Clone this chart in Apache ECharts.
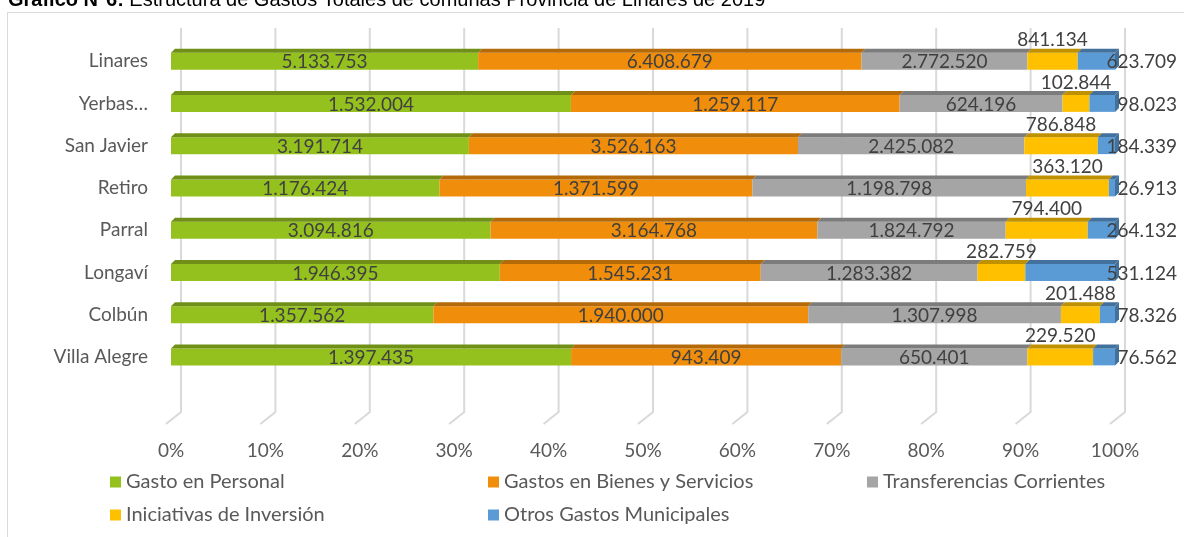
<!DOCTYPE html>
<html><head><meta charset="utf-8">
<script src="https://cdn.jsdelivr.net/npm/echarts@6/dist/echarts.min.js"></script>
<style>html,body{margin:0;padding:0;background:#fff;}#c{width:1184px;height:537px;}</style>
</head><body><div id="c"></div>
<script>
const categories = ['Linares','Yerbas Buenas','San Javier','Retiro','Parral','Longaví','Colbún','Villa Alegre'];
const categoryLabels = ['Linares','Yerbas…','San Javier','Retiro','Parral','Longaví','Colbún','Villa Alegre'];
const seriesNames = ['Gasto en Personal','Gastos en Bienes y Servicios','Transferencias Corrientes','Iniciativas de Inversión','Otros Gastos Municipales'];
const gastoPersonal    = [5133753, 1532004, 3191714, 1176424, 3094816, 1946395, 1357562, 1397435];
const bienesServicios  = [6408679, 1259117, 3526163, 1371599, 3164768, 1545231, 1940000,  943409];
const transferencias   = [2772520,  624196, 2425082, 1198798, 1824792, 1283382, 1307998,  650401];
const inversion        = [ 841134,  102844,  786848,  363120,  794400,  282759,  201488,  229520];
const otrosGastos      = [ 623709,   98023,  184339,   26913,  264132,  531124,   78326,   76562];
const xTicks = [0,10,20,30,40,50,60,70,80,90,100];

const allSeries = [gastoPersonal, bienesServicios, transferencias, inversion, otrosGastos];
const colors = ['#95C11F','#F08E0C','#A5A5A5','#FFC000','#5B9BD5'];
const darks  = ['#6F8F17','#B56A09','#7C7C7C','#BF9000','#41719C'];
const FONT = 'Lato, "Open Sans", sans-serif';

const totals = categories.map((c, i) => allSeries.reduce((s, arr) => s + arr[i], 0));
function fmt(v){ return String(v).replace(/\B(?=(\d{3})+(?!\d))/g, '.'); }

function makeData(si){
  return categories.map((c, i) => {
    let start = 0;
    for (let k = 0; k < si; k++) start += allSeries[k][i];
    const end = start + allSeries[si][i];
    return [start / totals[i] * 100, end / totals[i] * 100, i, allSeries[si][i]];
  });
}

function makeRenderer(si){
  return function(params, api){
    const start = api.value(0), end = api.value(1), idx = api.value(2), val = api.value(3);
    const p0 = api.coord([start, idx]), p1 = api.coord([end, idx]);
    const cy = p0[1], x0 = p0[0], x1 = p1[0];
    const h = 17, d = 4, top = cy - h / 2;
    const children = [
      {type:'rect', shape:{x:x0, y:top, width:x1 - x0, height:h}, style:{fill:colors[si]}},
      {type:'polygon', shape:{points:[[x0,top],[x0+d,top-d],[x1+d,top-d],[x1,top]]}, style:{fill:darks[si]}}
    ];
    if (si === allSeries.length - 1) {
      children.push({type:'polygon', shape:{points:[[x1,top],[x1+d,top-d],[x1+d,top+h-d],[x1,top+h]]}, style:{fill:darks[si]}});
    }
    let tx, ty, align;
    if (si === 3) { tx = (x0 + x1) / 2; ty = cy - 21; align = 'center'; }
    else if (si === 4) { tx = x1 + 62; ty = cy + 1; align = 'right'; }
    else { tx = (x0 + x1) / 2; ty = cy + 1; align = 'center'; }
    children.push({type:'text', z2:10, style:{text:fmt(val), x:tx, y:ty, align:align, verticalAlign:'middle', fill:'#404040', font:'19px ' + FONT}});
    return {type:'group', children:children};
  };
}

const series = [{
  type:'custom', name:'grid', xAxisIndex:1, yAxisIndex:1, silent:true, z:0,
  data: xTicks.map(t => [t]),
  encode:{x:0},
  renderItem: function(params, api){
    const t = api.value(0);
    const a = api.coord([t, 1]), b = api.coord([t, 0]);
    return {type:'polyline', shape:{points:[[a[0], a[1]],[b[0], b[1]],[b[0]-15, b[1]+12]]}, style:{stroke:'#D9D9D9', lineWidth:2, fill:null}};
  }
}];
seriesNames.forEach((n, si) => {
  series.push({
    type:'custom', name:n, xAxisIndex:0, yAxisIndex:0, z:2 + si,
    itemStyle:{color:colors[si]},
    data: makeData(si),
    encode:{x:[0,1], y:2},
    renderItem: makeRenderer(si)
  });
});

const legendCommon = {
  orient:'vertical', icon:'rect', itemWidth:11, itemHeight:11, itemGap:13, top:472, padding:0,
  textStyle:{color:'#595959', fontSize:20, fontFamily:FONT, lineHeight:20}
};

const chart = echarts.init(document.getElementById('c'), null, {renderer:'canvas'});
chart.setOption({
  animation:false,
  backgroundColor:'#fff',
  title:{
    text:'{b|Gráfico N°6:} Estructura de Gastos Totales de comunas Provincia de Linares de 2019',
    left:8, top:-10, padding:0,
    textStyle:{fontFamily:'"Liberation Sans", Arial, sans-serif', fontSize:20, fontWeight:'normal', color:'#000',
      rich:{b:{fontFamily:'"Liberation Sans", Arial, sans-serif', fontSize:20, fontWeight:'bold', color:'#000'}}}
  },
  graphic:[{type:'rect', shape:{x:7.5, y:12.5, width:1190, height:540}, style:{fill:null, stroke:'#D9D9D9', lineWidth:1}, silent:true, z:-1}],
  legend:[
    Object.assign({left:110, data:[seriesNames[0], seriesNames[3]]}, legendCommon),
    Object.assign({left:488, data:[seriesNames[1], seriesNames[4]]}, legendCommon),
    Object.assign({left:867, data:[seriesNames[2]]}, legendCommon)
  ],
  grid:[
    {left:171, top:40, width:944, height:338},
    {left:181, top:28, width:944, height:384}
  ],
  xAxis:[
    {type:'value', gridIndex:0, min:0, max:100, interval:10,
     axisLine:{show:false}, axisTick:{show:false}, splitLine:{show:false},
     axisLabel:{formatter:'{value}%', color:'#595959', fontSize:19, fontFamily:FONT, margin:63}},
    {type:'value', gridIndex:1, min:0, max:100, show:false, splitLine:{show:false}}
  ],
  yAxis:[
    {type:'category', gridIndex:0, data:categoryLabels, inverse:true,
     axisLine:{show:false}, axisTick:{show:false}, splitLine:{show:false},
     axisLabel:{color:'#595959', fontSize:19, fontFamily:FONT, margin:23, padding:[8,0,0,0]}},
    {type:'value', gridIndex:1, min:0, max:1, show:false, splitLine:{show:false}}
  ],
  series:series
});
</script></body></html>
